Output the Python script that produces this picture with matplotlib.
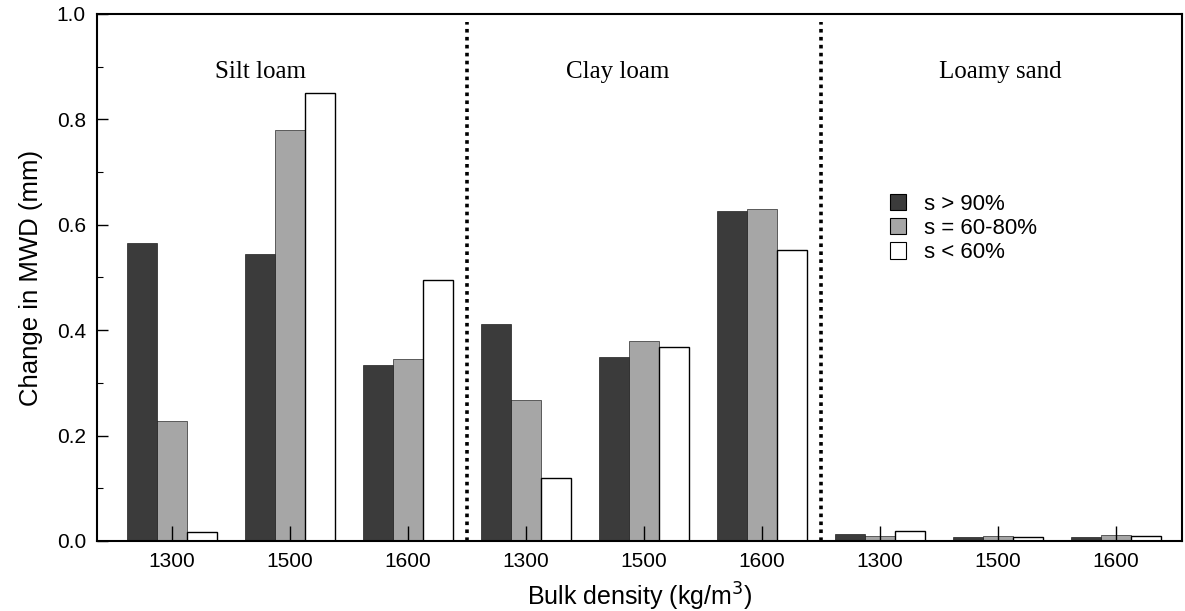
import numpy as np
import matplotlib
matplotlib.use("Agg")
import matplotlib.pyplot as plt
from matplotlib.patches import Patch

# bulk density per soil group, 3 moisture classes per density
densities = ["1300", "1500", "1600", "1300", "1500", "1600", "1300", "1500", "1600"]
soils = ["Silt loam", "Clay loam", "Loamy sand"]
series_labels = ["s > 90%", "s = 60-80%", "s < 60%"]

s_high = [0.565, 0.545, 0.333, 0.412, 0.350, 0.627, 0.014, 0.007, 0.008]
s_mid = [0.228, 0.780, 0.345, 0.267, 0.380, 0.630, 0.009, 0.010, 0.012]
s_low = [0.017, 0.850, 0.495, 0.120, 0.368, 0.553, 0.018, 0.008, 0.009]

plt.rcParams['font.family'] = ['Liberation Sans', 'DejaVu Sans']

fig = plt.figure(figsize=(11.85, 6.11), dpi=100)
ax = fig.add_axes([0.0819, 0.1146, 0.9156, 0.8625])

x = np.arange(len(densities))
w = 0.255
colors = ["#3b3b3b", "#a6a6a6", "white"]
for i, vals in enumerate([s_high, s_mid, s_low]):
    ax.bar(x + (i - 1) * w, vals, w, color=colors[i], edgecolor="black",
           linewidth=1.0 if i == 2 else 0.4, zorder=1)

# dotted separators between soil groups
for xs in [2.5, 5.5]:
    ax.vlines(xs, 0, 0.985, colors="black", linestyles=(0, (1, 1.2)), linewidth=2.6, zorder=3)

for k, name in enumerate(soils):
    xpos = [0.75, 3.78, 7.02][k]
    ax.text(xpos, 0.89, name, ha="center", va="center", fontsize=18,
            family=["Liberation Serif", "DejaVu Serif"])

ax.set_xlim(-0.636, 8.56)
ax.set_ylim(0, 1.0)
ax.set_xticks(x)
ax.set_xticklabels(densities, fontsize=15)
ax.set_yticks(np.arange(0, 1.01, 0.2))
ax.set_yticklabels(["0.0", "0.2", "0.4", "0.6", "0.8", "1.0"], fontsize=15)
ax.set_yticks(np.arange(0.1, 1.0, 0.2), minor=True)
ax.tick_params(axis="y", which="major", direction="in", length=8, width=1, pad=8)
ax.tick_params(axis="y", which="minor", direction="in", length=4, width=0.8)
ax.tick_params(axis="x", direction="in", length=11, width=1, pad=8)
for sp in ax.spines.values():
    sp.set_linewidth(1.5)

ax.set_ylabel("Change in MWD (mm)", fontsize=18.5, labelpad=10)
ax.set_xlabel("Bulk density (kg/m$^3$)", fontsize=18, labelpad=7)

handles = [Patch(facecolor=c, edgecolor="black", linewidth=0.8) for c in colors]
ax.legend(handles, series_labels, loc="upper left", bbox_to_anchor=(0.712, 0.697),
          frameon=False, fontsize=16, handlelength=0.75, handleheight=0.75,
          handletextpad=0.8, labelspacing=0.15)

fig.savefig("out.png", dpi=100)
